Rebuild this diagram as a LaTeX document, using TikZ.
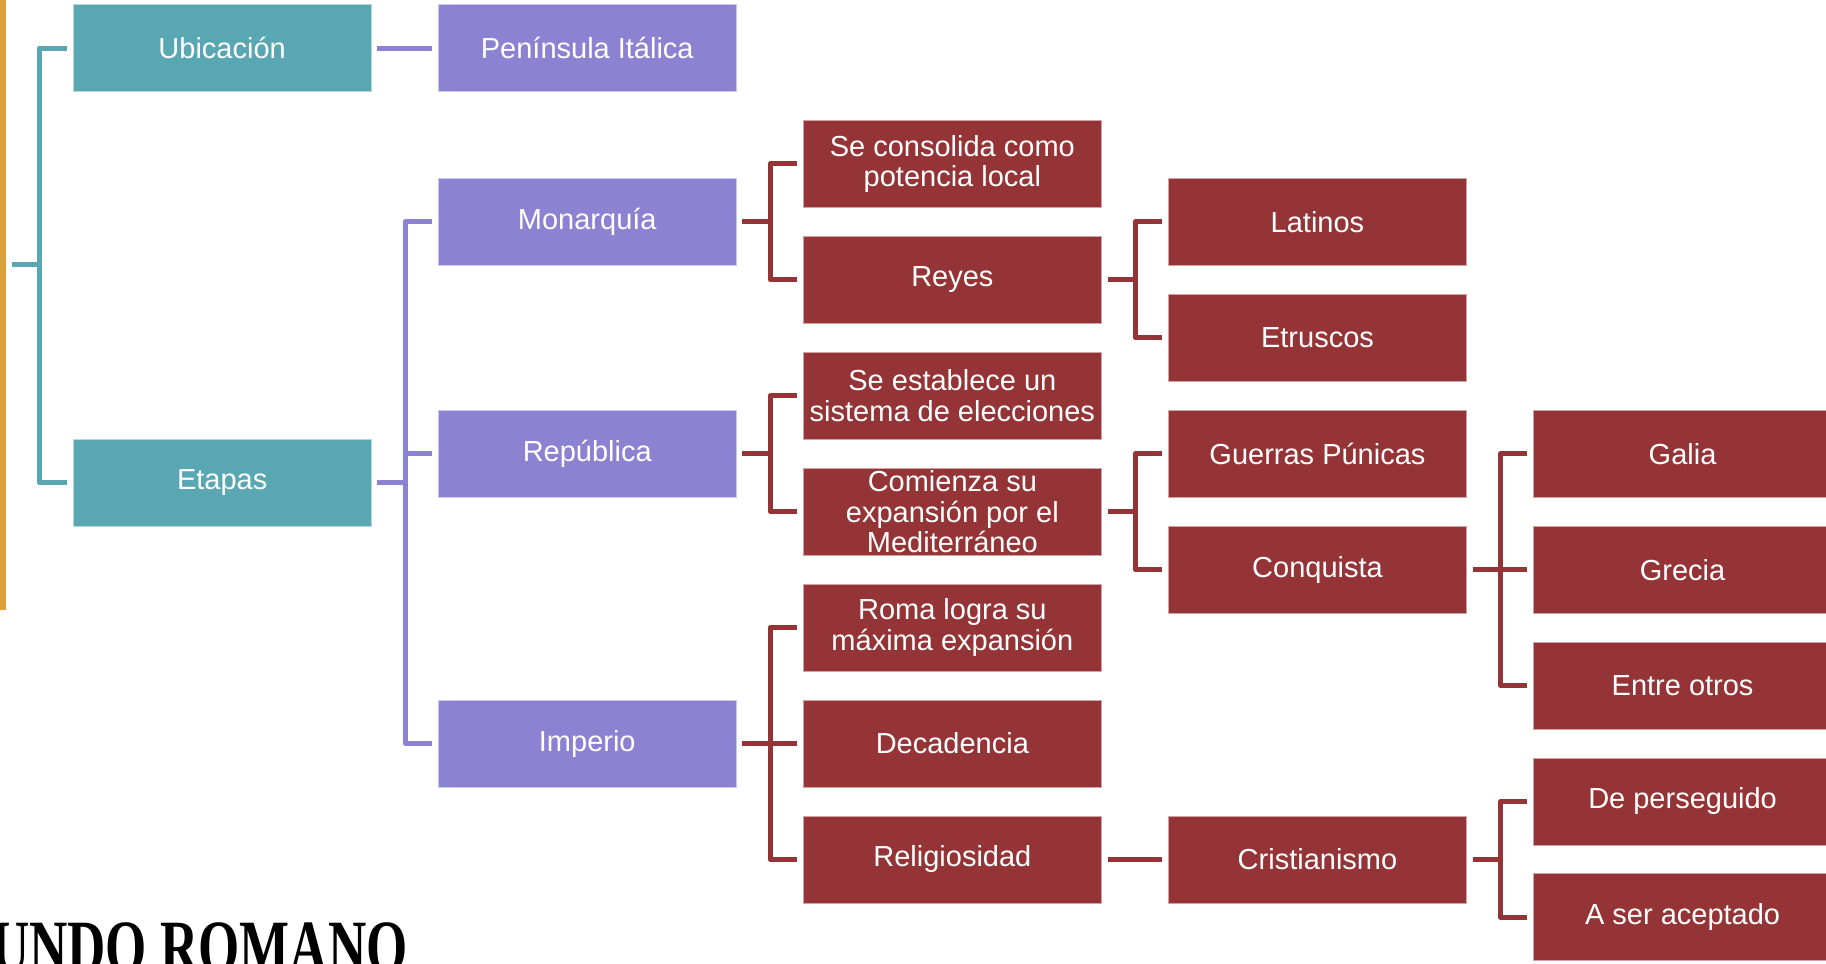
\documentclass[tikz,border=0pt]{standalone}
\usepackage{fontspec}
\usepackage{graphicx}
\newfontfamily\boxfamily{Liberation Sans}
\newfontfamily\titlefamily{Liberation Serif}
\newcommand\boxfont{\boxfamily\fontsize{21.75pt}{22.9pt}\selectfont}
\definecolor{tealc}{HTML}{59A7B3}
\definecolor{purplec}{HTML}{8B82D2}
\definecolor{redc}{HTML}{953436}
\definecolor{orangec}{HTML}{DAA03A}
\tikzset{
  box/.style={anchor=north west, minimum width=223.9pt, minimum height=65.25pt,
    inner sep=0pt, text=white, align=center, font=\boxfont,
    fill=#1, draw=white!55!#1, line width=0.6pt},
  conn/.style={draw=#1, line width=3.75pt, line join=round,
    shorten <=4.1pt, shorten >=4.1pt},
}
\newcommand\placebox[5]{\node[box=#1] (#2) at ({72.5+365.1*#3},{4.2+57.95*#4}) {#5};}
\begin{document}
\begin{tikzpicture}[x=0.75pt,y=-0.75pt]
\useasboundingbox (0,0) rectangle (1826,963);
\clip (0,0) rectangle (1826,963);
% left bar
\fill[orangec] (0,0) rectangle (6,610);
% title
\node[anchor=base east, inner sep=0pt] (title) at (408,972)
  {\scalebox{1}[1.42]{\titlefamily\bfseries\fontsize{39.75pt}{40pt}\selectfont MUNDO ROMANO}};
% boxes
\placebox{tealc}{ubic}{0}{0}{Ubicación}
\placebox{tealc}{etap}{0}{7.5}{Etapas}
\placebox{purplec}{pen}{1}{0}{Península Itálica}
\placebox{purplec}{mon}{1}{3}{Monarquía}
\placebox{purplec}{rep}{1}{7}{República}
\placebox{purplec}{imp}{1}{12}{Imperio}
\placebox{redc}{cons}{2}{2}{Se consolida como\\potencia local}
\placebox{redc}{rey}{2}{4}{Reyes}
\placebox{redc}{est}{2}{6}{Se establece un\\sistema de elecciones}
\placebox{redc}{com}{2}{8}{Comienza su\\expansión por el\\Mediterráneo}
\placebox{redc}{rom}{2}{10}{Roma logra su\\máxima expansión}
\placebox{redc}{dec}{2}{12}{Decadencia}
\placebox{redc}{rel}{2}{14}{Religiosidad}
\placebox{redc}{lat}{3}{3}{Latinos}
\placebox{redc}{etr}{3}{5}{Etruscos}
\placebox{redc}{gue}{3}{7}{Guerras Púnicas}
\placebox{redc}{conq}{3}{9}{Conquista}
\placebox{redc}{cri}{3}{14}{Cristianismo}
\placebox{redc}{gal}{4}{7}{Galia}
\placebox{redc}{gre}{4}{9}{Grecia}
\placebox{redc}{ent}{4}{11}{Entre otros}
\placebox{redc}{per}{4}{13}{De perseguido}
\placebox{redc}{ace}{4}{15}{A ser aceptado}
% connectors
\coordinate (root) at (11.7,264.7);
\foreach \c in {ubic,etap}
  \draw[conn=tealc, shorten <=0pt] (root) -- ++(27.3,0) |- (\c.west);
\draw[conn=purplec] (ubic.east) -- ++(33.3,0) |- (pen.west);
\foreach \c in {mon,rep,imp}
  \draw[conn=purplec] (etap.east) -- ++(33.3,0) |- (\c.west);
\foreach \p/\c in {mon/cons,mon/rey,rep/est,rep/com,imp/rom,imp/dec,imp/rel,
    rey/lat,rey/etr,com/gue,com/conq,rel/cri,conq/gal,conq/gre,conq/ent,cri/per,cri/ace}
  \draw[conn=redc] (\p.east) -- ++(33.3,0) |- (\c.west);
\end{tikzpicture}
\end{document}
